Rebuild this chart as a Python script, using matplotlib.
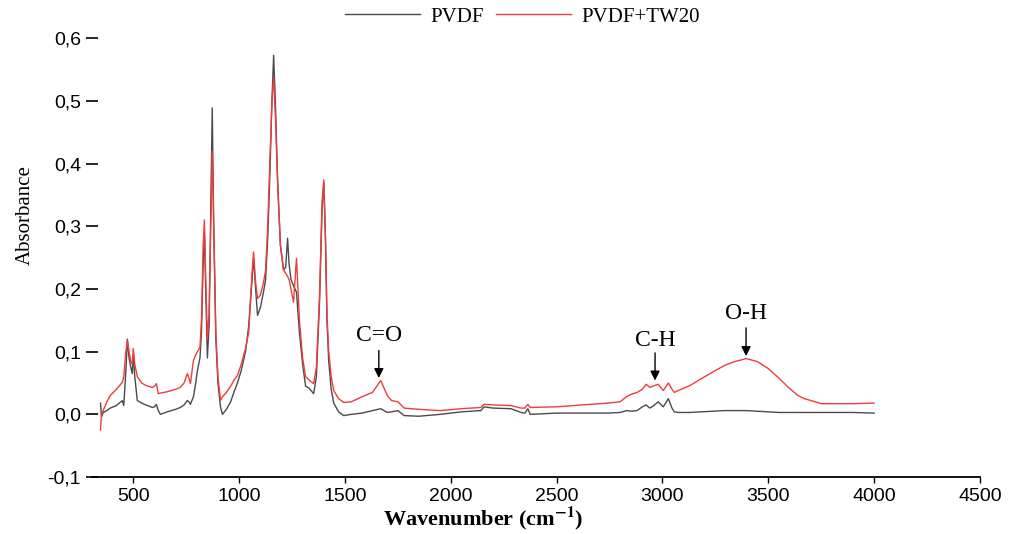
import matplotlib
matplotlib.use("Agg")
import matplotlib.pyplot as plt
from matplotlib.ticker import FuncFormatter

# wavenumber grid (cm-1) shared by both spectra
wavenumber = [
    345, 350, 358, 375, 391, 420, 448, 455, 465, 472,
    480, 488, 495, 500, 507, 519, 540, 560, 590, 600,
    609, 618, 628, 660, 700, 722, 740, 755, 763, 770,
    784, 795, 803, 815, 822, 830, 836, 842, 850, 858,
    866, 873, 880, 890, 900, 912, 921, 940, 960, 975,
    992, 1010, 1030, 1045, 1060, 1068, 1078, 1087, 1100, 1115,
    1125, 1135, 1145, 1155, 1163, 1172, 1182, 1195, 1210, 1220,
    1229, 1236, 1245, 1257, 1271, 1285, 1300, 1314, 1330, 1352,
    1365, 1380, 1392, 1400, 1408, 1415, 1423, 1435, 1447, 1470,
    1494, 1530, 1580, 1630, 1669, 1700, 1720, 1750, 1780, 1850,
    1950, 2050, 2142, 2157, 2200, 2284, 2332, 2350, 2364, 2375,
    2500, 2743, 2800, 2830, 2852, 2880, 2905, 2923, 2940, 2955,
    2980, 3004, 3028, 3045, 3056, 3075, 3130, 3184, 3240, 3293,
    3340, 3396, 3450, 3500, 3550, 3595, 3640, 3671, 3752, 3800,
    3900, 4000,
]

pvdf = [
    0.018, -0.004, 0.003, 0.006, 0.010, 0.014, 0.022, 0.014, 0.070, 0.120,
    0.090, 0.075, 0.065, 0.095, 0.060, 0.022, 0.018, 0.015, 0.011, 0.012,
    0.016, 0.006, 0.000, 0.004, 0.008, 0.011, 0.015, 0.022, 0.020, 0.016,
    0.028, 0.050, 0.070, 0.090, 0.130, 0.240, 0.290, 0.200, 0.090, 0.140,
    0.320, 0.489, 0.300, 0.120, 0.050, 0.012, 0.000, 0.008, 0.020, 0.035,
    0.050, 0.070, 0.100, 0.140, 0.210, 0.250, 0.200, 0.158, 0.170, 0.195,
    0.215, 0.280, 0.380, 0.500, 0.573, 0.490, 0.370, 0.270, 0.230, 0.235,
    0.281, 0.240, 0.215, 0.205, 0.195, 0.130, 0.080, 0.045, 0.042, 0.033,
    0.060, 0.180, 0.330, 0.370, 0.280, 0.150, 0.086, 0.040, 0.018, 0.004,
    -0.002, 0.000, 0.002, 0.006, 0.009, 0.003, 0.004, 0.006, -0.002, -0.003,
    0.000, 0.004, 0.006, 0.012, 0.010, 0.009, 0.003, 0.002, 0.009, 0.000,
    0.002, 0.002, 0.003, 0.006, 0.005, 0.006, 0.012, 0.015, 0.010, 0.013,
    0.020, 0.012, 0.025, 0.010, 0.004, 0.003, 0.003, 0.004, 0.005, 0.006,
    0.006, 0.006, 0.005, 0.004, 0.003, 0.003, 0.003, 0.003, 0.003, 0.003,
    0.003, 0.002,
]

pvdf_tw20 = [
    -0.025, 0.000, 0.006, 0.020, 0.030, 0.040, 0.051, 0.060, 0.100, 0.118,
    0.100, 0.085, 0.080, 0.105, 0.080, 0.060, 0.050, 0.046, 0.043, 0.045,
    0.049, 0.033, 0.034, 0.036, 0.040, 0.043, 0.050, 0.065, 0.058, 0.049,
    0.086, 0.095, 0.100, 0.107, 0.150, 0.270, 0.310, 0.220, 0.120, 0.160,
    0.300, 0.420, 0.300, 0.130, 0.060, 0.022, 0.028, 0.035, 0.045, 0.054,
    0.062, 0.080, 0.105, 0.130, 0.220, 0.259, 0.210, 0.185, 0.190, 0.210,
    0.230, 0.300, 0.400, 0.500, 0.537, 0.470, 0.370, 0.270, 0.230, 0.225,
    0.220, 0.215, 0.200, 0.179, 0.249, 0.150, 0.090, 0.060, 0.055, 0.049,
    0.075, 0.190, 0.340, 0.374, 0.280, 0.160, 0.102, 0.060, 0.038, 0.025,
    0.019, 0.020, 0.028, 0.035, 0.054, 0.030, 0.022, 0.020, 0.010, 0.008,
    0.006, 0.009, 0.011, 0.016, 0.015, 0.014, 0.010, 0.010, 0.016, 0.011,
    0.012, 0.018, 0.020, 0.028, 0.032, 0.035, 0.040, 0.048, 0.043, 0.045,
    0.048, 0.038, 0.050, 0.040, 0.035, 0.038, 0.046, 0.057, 0.068, 0.078,
    0.084, 0.089, 0.084, 0.073, 0.058, 0.043, 0.030, 0.025, 0.017, 0.017,
    0.017, 0.018,
]

# band labels: text, wavenumber, text height, arrow start, arrow tip
bands = ["C=O", "C-H", "O-H"]
band_x = [1660, 2965, 3395]
band_text_y = [0.126, 0.118, 0.161]
band_arrow_from = [0.102, 0.098, 0.138]
band_arrow_to = [0.058, 0.054, 0.093]

plt.rcParams['mathtext.fontset'] = 'stix'

fig = plt.figure(figsize=(10.09, 5.34), dpi=100)
ax = fig.add_axes([0.0912, 0.1067, 0.880, 0.845])

ax.plot(wavenumber, pvdf, color='#4a4a4a', lw=1.0, label='PVDF')
ax.plot(wavenumber, pvdf_tw20, color='#f03c3c', lw=1.0, label='PVDF+TW20')

for name, bx, ty, a0, a1 in zip(bands, band_x, band_text_y, band_arrow_from, band_arrow_to):
    ax.text(bx, ty, name, ha='center', va='center', fontsize=17,
            family='Liberation Serif')
    ax.annotate('', xy=(bx, a1), xytext=(bx, a0),
                arrowprops=dict(arrowstyle='-|>', color='black', lw=1.0,
                                mutation_scale=14, shrinkA=0, shrinkB=0))

ax.set_xlim(305, 4500)
ax.set_ylim(-0.1, 0.62)
ax.set_xticks(range(500, 4501, 500))
ax.set_yticks([-0.1, 0.0, 0.1, 0.2, 0.3, 0.4, 0.5, 0.6])
ax.yaxis.set_major_formatter(FuncFormatter(lambda v, p: f"{v:.1f}".replace('.', ',')))

for s in ['top', 'right', 'left']:
    ax.spines[s].set_visible(False)
ax.spines['bottom'].set_linewidth(1.3)
ax.tick_params(axis='x', direction='out', length=4, width=1, labelsize=14, pad=4)
ax.tick_params(axis='y', direction='inout', length=8, width=1.2, labelsize=14, pad=4)
for lab in ax.get_xticklabels() + ax.get_yticklabels():
    lab.set_family('Liberation Sans')

ax.set_xlabel(r'Wavenumber (cm$^{\mathbf{-1}}$)', fontsize=16, fontweight='bold',
              family='Liberation Serif', va='center')
ax.xaxis.set_label_coords(0.441, -0.092)
ax.set_ylabel('Absorbance', fontsize=15, family='Liberation Serif', va='center')
ax.yaxis.set_label_coords(-0.075, 0.58)

ax.legend(loc='center', bbox_to_anchor=(0.485, 1.02), ncol=2, frameon=False,
          handlelength=3.6, columnspacing=0.6, handletextpad=0.5,
          prop={'family': 'Liberation Serif', 'size': 15})

fig.savefig('out.png', dpi=100)
